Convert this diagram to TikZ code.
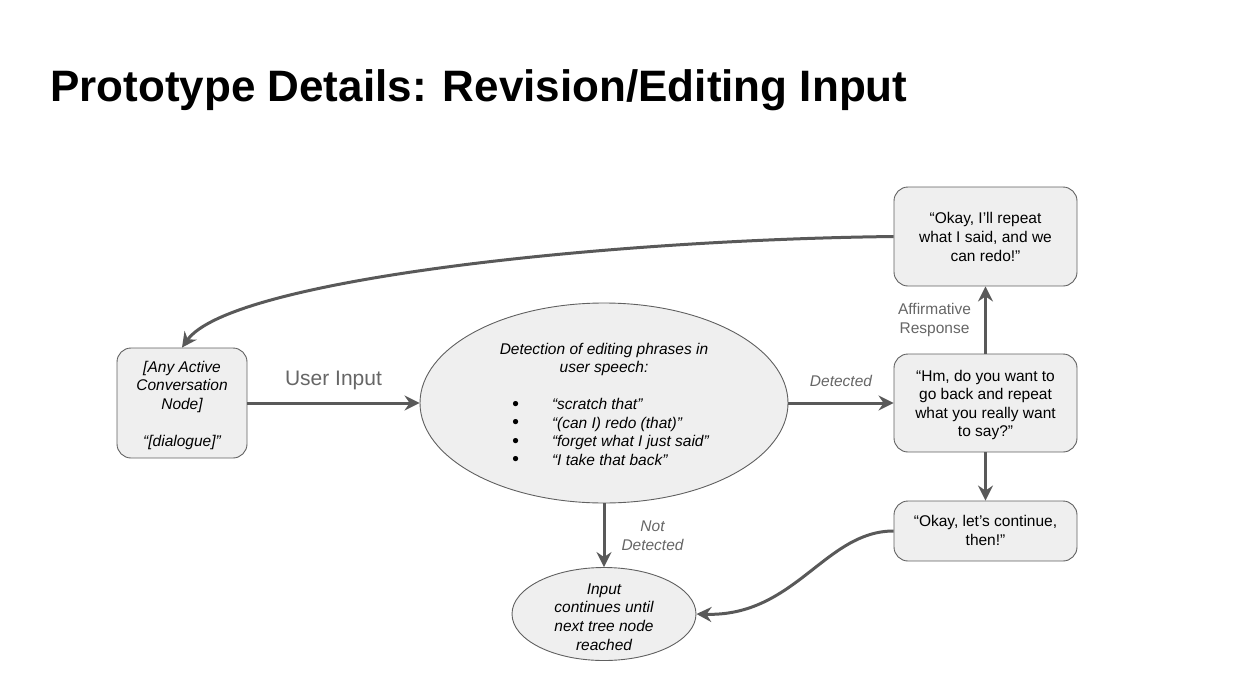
\documentclass[tikz,border=0pt]{standalone}
\usepackage{fontspec}
\setmainfont{Liberation Sans}
\usetikzlibrary{arrows.meta,shapes.geometric}
\definecolor{edgegray}{HTML}{595959}
\definecolor{bordergray}{HTML}{606060}
\definecolor{boxfill}{HTML}{EFEFEF}
\definecolor{labelgray}{HTML}{666666}
\newcommand{\shiftdn}[2]{\raisebox{-#1}[\height][\depth]{#2}}
\newcommand{\bigbul}{\raisebox{-0.3pt}[0pt][0pt]{\scalebox{1.25}{\textbullet}}}
\begin{document}
\begin{tikzpicture}[x=1pt,y=-1pt,
  every node/.style={font=\fontsize{15.5}{19}\selectfont},
  box/.style={draw=bordergray, line width=0.9pt, fill=boxfill, rounded corners=14pt, align=center, inner sep=0pt, minimum width=183pt},
  oval/.style={ellipse, draw=bordergray, line width=0.9pt, fill=boxfill, align=center, inner sep=0pt},
  conn/.style={draw=edgegray, line width=3pt, -{Stealth[length=15pt,width=15pt,inset=5pt]}},
  lbl/.style={text=labelgray, align=center, inner sep=0pt},
]
\useasboundingbox (0,0) rectangle (1252,696);

\node[anchor=base west, inner sep=0pt, font=\fontsize{44}{50}\selectfont\bfseries] (title) at (50,101) {Prototype Details: Revision/Editing Input};

\node[box, minimum width=130pt, minimum height=110pt, font=\fontsize{15.5}{18.5}\selectfont\itshape] (left) at (182,403)
  {\shiftdn{2.5pt}{\begin{tabular}{@{}c@{}}[Any Active\\Conversation\\Node]\\[18.2pt]“[dialogue]”\end{tabular}}};

\node[oval, minimum width=368pt, minimum height=200pt, font=\fontsize{15.5}{18.5}\selectfont\itshape] (det) at (604,403)
  {\shiftdn{3pt}{\begin{tabular}{@{}c@{}}Detection of editing phrases in\\user speech:\\[18.5pt]
   \hspace*{13pt}\begin{tabular}{@{}l@{\hspace{33pt}}l@{}}
   \bigbul & “scratch that”\\
   \bigbul & “(can I) redo (that)”\\
   \bigbul & “forget what I just said”\\
   \bigbul & “I take that back”
   \end{tabular}\end{tabular}}};

\node[oval, minimum width=184pt, minimum height=93pt, inner ysep=-10pt, font=\fontsize{15.5}{18.7}\selectfont\itshape] (end) at (604,614)
  {\shiftdn{4.5pt}{\begin{tabular}{@{}c@{}}Input\\continues until\\next tree node\\reached\end{tabular}}};

\node[box, minimum height=99pt] (top) at (985.5,236.5)
  {“Okay, I’ll repeat\\what I said, and we\\can redo!”};

\node[box, minimum height=98pt, font=\fontsize{15.5}{18.5}\selectfont] (mid) at (985.5,403)
  {\shiftdn{2.5pt}{\begin{tabular}{@{}c@{}}“Hm, do you want to\\go back and repeat\\what you really want\\to say?”\end{tabular}}};

\node[box, minimum height=60pt] (bot) at (985.5,531)
  {\shiftdn{1.5pt}{\begin{tabular}{@{}c@{}}“Okay, let’s continue,\\then!”\end{tabular}}};

\draw[conn] (left.east) -- node[lbl, midway, above=12pt, font=\fontsize{21}{24}\selectfont] {User Input} (det.west);
\draw[conn] (det.east) -- node[lbl, midway, above=15pt, font=\fontsize{15.5}{19}\selectfont\itshape] {Detected} (mid.west);
\draw[conn] (mid.north) -- node[lbl, midway, left=13pt] {Affirmative\\Response} (top.south);
\draw[conn] (mid.south) -- (bot.north);
\draw[conn] (det.south) -- node[lbl, midway, right=16pt, font=\fontsize{15.5}{19}\selectfont\itshape] {Not\\Detected} (end.north);
\draw[conn] (top.west) .. controls (600,240) and (230,280) .. (left.north);
\draw[conn] (bot.west) .. controls (825,531) and (795,617) .. (end.east);
\end{tikzpicture}
\end{document}
